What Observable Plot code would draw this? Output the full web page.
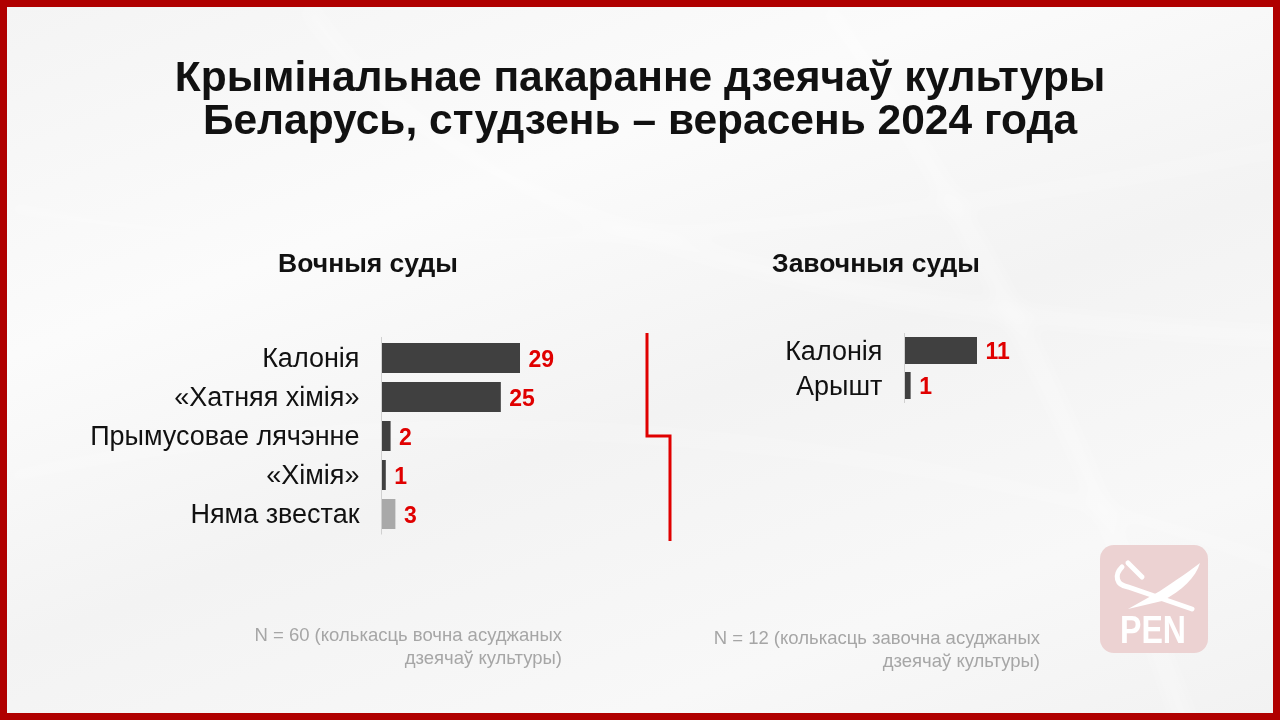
<!DOCTYPE html>
<html>
<head>
<meta charset="utf-8">
<script src="https://cdn.jsdelivr.net/npm/d3@7"></script>
<script src="https://cdn.jsdelivr.net/npm/@observablehq/plot@0.6"></script>
<style>
  html, body { margin: 0; padding: 0; }
  body { width: 1280px; height: 720px; overflow: hidden; font-family: "Liberation Sans", Arial, sans-serif; }
  #frame {
    position: absolute; left: 0; top: 0; width: 1266px; height: 706px;
    border: 7px solid #b00000;
    background: linear-gradient(160deg, #f4f4f4 0%, #fbfbfb 30%, #f3f3f3 55%, #f8f8f8 80%, #f2f2f2 100%);
    overflow: hidden;
  }
  .abs { position: absolute; }
  #title { left: 0; width: 1280px; top: 55px; text-align: center; font-weight: bold; font-size: 42.5px; line-height: 43px; color: #111; }
  .sub { top: 248px; font-weight: bold; font-size: 26.5px; color: #111; text-align: center; width: 400px; }
  .note { font-size: 18.5px; line-height: 23px; color: #a6a6a6; text-align: right; width: 420px; }
</style>
</head>
<body>
<div id="frame"></div>
<svg class="abs" style="left:7px;top:7px" width="1266" height="706">
  <defs><filter id="blur"><feGaussianBlur stdDeviation="8"/></filter></defs>
  <g filter="url(#blur)" fill="none" stroke="#ffffff">
    <path d="M300,0 C420,180 700,300 1280,330" stroke-width="14" opacity="0.35"/>
    <path d="M0,200 C300,260 800,240 1280,140" stroke-width="10" opacity="0.3"/>
    <path d="M820,0 C1000,250 1100,500 1180,720" stroke-width="16" opacity="0.35"/>
    <path d="M0,470 C400,380 900,420 1280,560" stroke-width="10" opacity="0.3"/>
  </g>
</svg>
<div id="title" class="abs">Крымінальнае пакаранне дзеячаў культуры<br>Беларусь, студзень – верасень 2024 года</div>
<div class="abs sub" style="left:168px">Вочныя суды</div>
<div class="abs sub" style="left:676px">Завочныя суды</div>
<div id="left" class="abs" style="left:140px;top:330px"></div>
<div id="right" class="abs" style="left:660px;top:325px"></div>
<svg class="abs" style="left:0;top:0" width="1280" height="720">
  <path d="M647,333 L647,436 L670,436 L670,541" fill="none" stroke="#e00000" stroke-width="3"/>
</svg>
<div class="abs note" style="left:142px;top:623px">N = 60 (колькасць вочна асуджаных<br>дзеячаў культуры)</div>
<div class="abs note" style="left:620px;top:626px">N = 12 (колькасць завочна асуджаных<br>дзеячаў культуры)</div>
<svg class="abs" style="left:1100px;top:545px" width="108" height="108">
  <rect x="0" y="0" width="108" height="108" rx="14" fill="#ecd2d2"/>
  <path d="M22,22 C14,30 16,40 28,42 L92,64" fill="none" stroke="#fff" stroke-width="5" stroke-linecap="round"/>
  <path d="M28,18 L42,32" stroke="#fff" stroke-width="5" stroke-linecap="round"/>
  <path d="M28,64 L60,46 C75,36 90,26 100,18 C96,32 82,46 62,56 Z" fill="#fff"/>
  <text x="20" y="98" font-family="Liberation Sans, Arial" font-weight="bold" font-size="38" fill="#fff" textLength="66" lengthAdjust="spacingAndGlyphs">PEN</text>
</svg>
<script>
const leftCategories = ["Калонія", "«Хатняя хімія»", "Прымусовае лячэнне", "«Хімія»", "Няма звестак"];
const leftValues = [29, 25, 2, 1, 3];
const rightCategories = ["Калонія", "Арышт"];
const rightValues = [11, 1];

const leftData = leftCategories.map((c, i) => ({category: c, value: leftValues[i]}));
const rightData = rightCategories.map((c, i) => ({category: c, value: rightValues[i]}));

function chart(data, categories, opts) {
  return Plot.plot({
    width: opts.width, height: opts.height,
    marginLeft: opts.marginLeft, marginRight: opts.marginRight,
    marginTop: opts.marginTop, marginBottom: opts.marginBottom,
    style: {background: "transparent", fontFamily: "Liberation Sans, Arial, sans-serif", overflow: "visible"},
    x: {domain: [0, opts.xmax], axis: null},
    y: {domain: categories, paddingInner: opts.padding, paddingOuter: opts.padding / 2, label: null},
    marks: [
      Plot.axisY({tickSize: 0, tickPadding: 22, fontSize: 27, fill: "#111", label: null}),
      Plot.barX(data, {y: "category", x: "value", fill: d => d.category === "Няма звестак" ? "#a9a9a9" : "#404040"}),
      Plot.ruleX([0], {stroke: "#d0d0d0", strokeWidth: 1}),
      Plot.text(data, {y: "category", x: "value", text: d => String(d.value), dx: 8, dy: 1, textAnchor: "start", fill: "#e00000", fontWeight: "bold", fontSize: 23})
    ]
  });
}

document.getElementById("left").append(chart(leftData, leftCategories, {
  width: 440, height: 210, marginLeft: 241, marginRight: 60, marginTop: 7, marginBottom: 5.5, xmax: 29, padding: 0.24
}));
document.getElementById("right").append(chart(rightData, rightCategories, {
  width: 400, height: 85, marginLeft: 244, marginRight: 83, marginTop: 8, marginBottom: 7, xmax: 11, padding: 0.23
}));
</script>
</body>
</html>
